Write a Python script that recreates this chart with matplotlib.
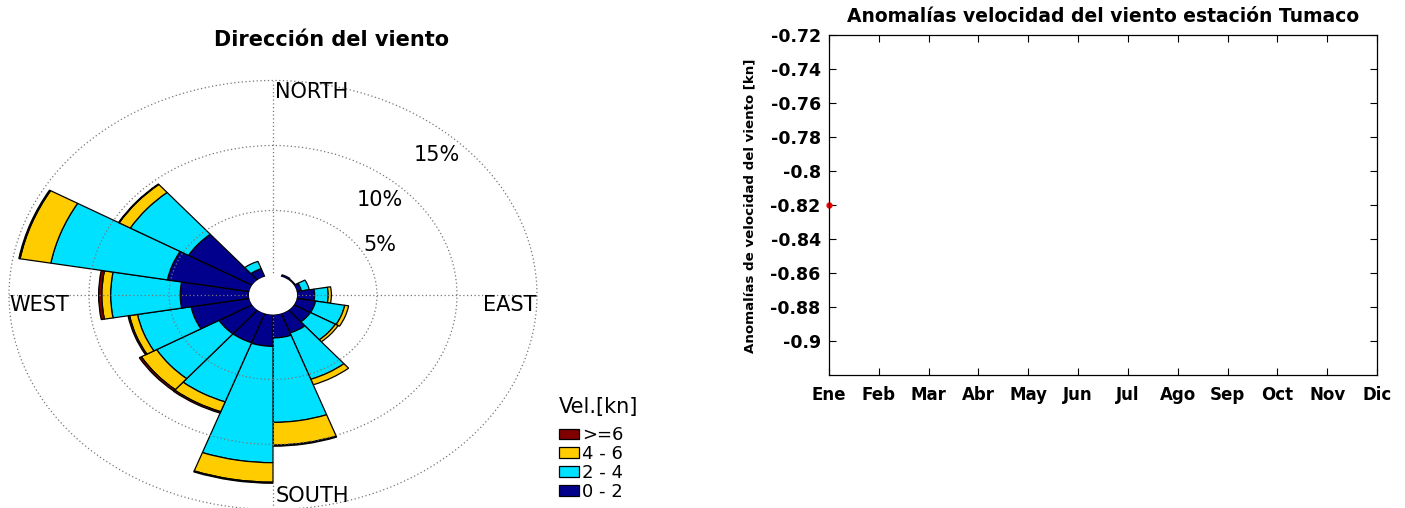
import matplotlib
matplotlib.use("Agg")
import matplotlib.pyplot as plt
from matplotlib.patches import Wedge, Circle, Patch

# Wind rose: 18 sectors of 20 deg, value = % of time in each speed class
directions = [10, 30, 50, 70, 90, 110, 130, 150, 170, 190, 210, 230, 250, 270, 290, 310, 330, 350]
freq_0_2 = [0, 0.15, 0.1, 0.3, 1.1, 1.2, 1.2, 1.6, 1.8, 2.45, 2.4, 2.4, 3.7, 4.3, 5.2, 4.6, 0.65, 0]
freq_2_4 = [0, 0, 0, 0.5, 0.85, 1.85, 1.8, 3.8, 6.5, 8.95, 4.85, 4.5, 3.4, 4.35, 7.4, 4.2, 0.6, 0]
freq_4_6 = [0, 0, 0, 0, 0.2, 0.25, 0.2, 0.45, 1.75, 1.5, 0.8, 1.1, 0.5, 0.55, 1.95, 0.8, 0, 0]
freq_6 = [0, 0, 0, 0, 0, 0, 0, 0, 0.08, 0.08, 0.12, 0.15, 0.1, 0.2, 0.08, 0.05, 0, 0]
class_labels = ['0 - 2', '2 - 4', '4 - 6', '>=6']
class_colors = ['#00008c', '#00e1ff', '#ffcc00', '#800000']
rings = [5, 10, 15]

# Monthly anomaly series (only January available)
months = ['Ene', 'Feb', 'Mar', 'Abr', 'May', 'Jun', 'Jul', 'Ago', 'Sep', 'Oct', 'Nov', 'Dic']
anomaly_month = [1]
anomaly_value = [-0.82]
yticks = [-0.9, -0.88, -0.86, -0.84, -0.82, -0.8, -0.78, -0.76, -0.74, -0.72]
ytick_labels = ['-0.9', '-0.88', '-0.86', '-0.84', '-0.82', '-0.8', '-0.78', '-0.76', '-0.74', '-0.72']

W, H = 1405, 508
HOLE = 1.5      # empty centre radius, in % units
PX_X, PX_Y = 16.0, 13.0   # pixels per % unit (rose is stretched sideways)
CX, CY = 273, 295
GRID = '#777777'

fig = plt.figure(figsize=(W / 100, H / 100), dpi=100)
plt.rcParams['font.family'] = ['DejaVu Sans']

# ---------------- wind rose ----------------
ax = fig.add_axes([0, 0, 700 / W, 1])
ax.set_xlim(-CX / PX_X, (700 - CX) / PX_X)
ax.set_ylim((CY - H) / PX_Y, CY / PX_Y)
ax.axis('off')

classes = [freq_0_2, freq_2_4, freq_4_6, freq_6]
for i, d in enumerate(directions):
    r = HOLE
    for vals, col in zip(classes, class_colors):
        v = vals[i]
        if v <= 0:
            continue
        w = Wedge((0, 0), r + v, 90 - d - 10, 90 - d + 10, width=v,
                  facecolor=col, edgecolor='black', linewidth=0.9, zorder=2)
        ax.add_patch(w)
        r += v

outer = HOLE + rings[-1]
for p in rings:
    ax.add_patch(Circle((0, 0), HOLE + p, fill=False, edgecolor=GRID,
                        linestyle=(0, (1, 2)), linewidth=0.9, zorder=3))
ax.plot([0, 0], [-outer, outer], color=GRID, linestyle=(0, (1, 2)), linewidth=0.9, zorder=3)
ax.plot([-outer, outer], [0, 0], color=GRID, linestyle=(0, (1, 2)), linewidth=0.9, zorder=3)
ax.add_patch(Circle((0, 0), HOLE, facecolor='white', edgecolor='none', zorder=4))

# ring labels
ax.text(6.69, 3.85, '5%', fontsize=15, ha='center', va='center')
ax.text(6.69, 7.31, '10%', fontsize=15, ha='center', va='center')
ax.text(10.25, 10.77, '15%', fontsize=15, ha='center', va='center')

ax.text(0.15, 15.6, 'NORTH', fontsize=15, ha='left', va='center')
ax.text(0.15, -15.5, 'SOUTH', fontsize=15, ha='left', va='center')
ax.text(-16.45, -0.8, 'WEST', fontsize=15, ha='left', va='center')
ax.text(16.45, -0.8, 'EAST', fontsize=15, ha='right', va='center')

fig.text(332 / W, 1 - 40 / H, 'Dirección del viento', fontsize=15, fontweight='bold',
         ha='center', va='center')

handles = [Patch(facecolor=c, edgecolor='black', linewidth=0.9) for c in class_colors]
leg = ax.legend(handles[::-1], class_labels[::-1], title='Vel.[kn]', frameon=False,
                loc='upper left', bbox_to_anchor=(546 / W, 1 - 384 / H),
                bbox_transform=fig.transFigure, fontsize=13, title_fontsize=15,
                handlelength=1.1, handleheight=0.55, handletextpad=0.2,
                labelspacing=0.05, borderpad=0.2)
leg._legend_box.align = 'left'
leg._legend_box.sep = 7

# ---------------- anomaly panel ----------------
ax2 = fig.add_axes([829 / W, (H - 375) / H, 548 / W, 340 / H])
ax2.plot(anomaly_month, anomaly_value, '.', color='red', markersize=7, clip_on=False)
ax2.set_xlim(1, 12)
ax2.set_ylim(-0.92, -0.72)
ax2.set_xticks(range(1, 13))
ax2.set_xticklabels(months, fontweight='bold', fontsize=12)
ax2.set_yticks(yticks)
ax2.set_yticklabels(ytick_labels, fontweight='bold', fontsize=12.5)
ax2.tick_params(direction='in', top=True, right=True, length=5, width=0.8)
ax2.tick_params(axis='x', pad=8)
ax2.tick_params(axis='y', pad=6)
for s in ax2.spines.values():
    s.set_linewidth(0.9)

fig.text(1103 / W, 1 - 17 / H, 'Anomalías velocidad del viento estación Tumaco',
         fontsize=13.5, fontweight='bold', ha='center', va='center')
fig.text(750 / W, 1 - 206 / H, 'Anomalías de velocidad del viento [kn]',
         fontsize=9.6, fontweight='bold', rotation=90, ha='center', va='center')

fig.savefig('out.png', dpi=100)
